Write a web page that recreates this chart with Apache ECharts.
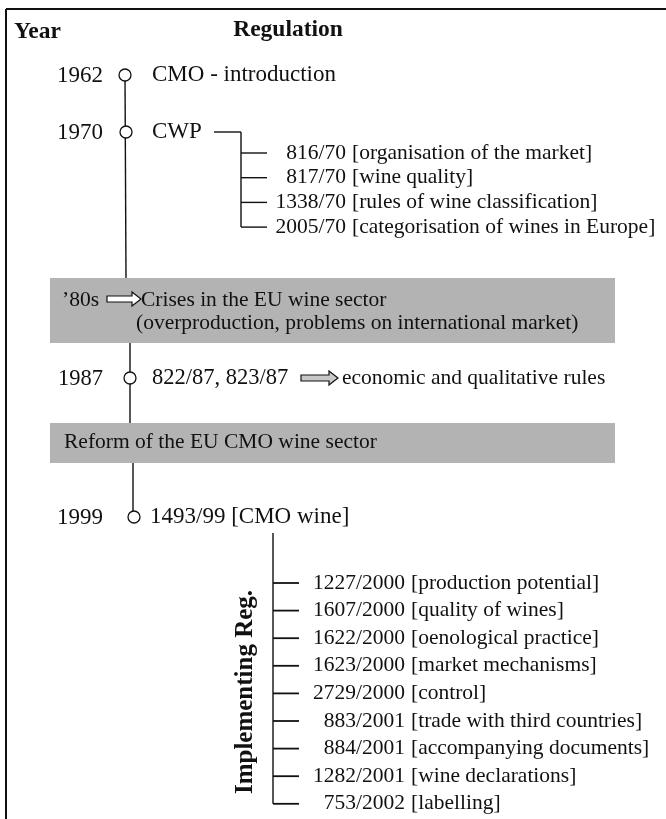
<!DOCTYPE html>
<html>
<head>
<meta charset="utf-8">
<script src="https://cdn.jsdelivr.net/npm/echarts@6/dist/echarts.min.js"></script>
<style>
  html, body { margin: 0; padding: 0; background: #fff; }
  #chart { width: 666px; height: 819px; }
</style>
</head>
<body>
<div id="chart"></div>
<script>
// 表头
const headers = ['Year', 'Regulation']

// 时间轴节点
const years = ['1962', '1970', '1987', '1999']
const yearLabels = ['CMO - introduction', 'CWP', '822/87, 823/87', '1493/99 [CMO wine]']
const rule1987 = 'economic and qualitative rules'

// CWP 下属条例
const cwpCodes = ['816/70', '817/70', '1338/70', '2005/70']
const cwpTopics = ['organisation of the market', 'wine quality', 'rules of wine classification', 'categorisation of wines in Europe']

// 灰色说明框
const crisisPeriod = '\u201980s'
const crisisLines = ['Crises in the EU wine sector', '(overproduction, problems on international market)']
const reformText = 'Reform of the EU CMO wine sector'

// 实施条例
const implTitle = 'Implementing Reg.'
const implCodes = ['1227/2000', '1607/2000', '1622/2000', '1623/2000', '2729/2000', '883/2001', '884/2001', '1282/2001', '753/2002']
const implTopics = ['production potential', 'quality of wines', 'oenological practice', 'market mechanisms', 'control', 'trade with third countries', 'accompanying documents', 'wine declarations', 'labelling']

// 布局 (隐藏坐标轴上的像素单位)
const W = 666
const H = 819
const yearRowY = [75, 132, 378, 517]
const spineX = [125, 126, 130, 134]
const cwpStartY = 153
const cwpStep = 24.7
const implStartY = 583
const implStep = 27.6
const crisisBox = [50, 278, 615, 343]
const reformBox = [50, 423, 615, 463]

const FONT = '"Liberation Serif", "DejaVu Serif", serif'
const FS = 21.5
const FS_BIG = 23
const GRAY = '#b3b3b3'

const chart = echarts.init(document.getElementById('chart'))

const txt = (api, x, y, text, opt = {}) => {
  const p = api.coord([x, y])
  return {
    type: 'text',
    x: p[0],
    y: p[1],
    rotation: opt.rotation || 0,
    style: {
      text: text,
      font: (opt.bold ? 'bold ' : '') + (opt.size || FS) + 'px ' + FONT,
      fill: '#111',
      align: opt.align || 'left',
      verticalAlign: 'middle'
    }
  }
}

const seg = (api, x1, y1, x2, y2, w = 1.4) => {
  const a = api.coord([x1, y1])
  const b = api.coord([x2, y2])
  return {
    type: 'line',
    shape: { x1: a[0], y1: a[1], x2: b[0], y2: b[1] },
    style: { stroke: '#111', lineWidth: w }
  }
}

const box = (api, b) => {
  const a = api.coord([b[0], b[1]])
  const c = api.coord([b[2], b[3]])
  return {
    type: 'rect',
    shape: { x: a[0], y: a[1], width: c[0] - a[0], height: c[1] - a[1] },
    style: { fill: GRAY }
  }
}

const circle = (api, x, y) => {
  const p = api.coord([x, y])
  return {
    type: 'circle',
    shape: { cx: p[0], cy: p[1], r: 6 },
    style: { fill: '#fff', stroke: '#111', lineWidth: 1.3 }
  }
}

// 空心箭头
const arrow = (api, x1, x2, y, fill) => {
  const a = api.coord([x1, y])
  const b = api.coord([x2, y])
  const head = 9
  const pts = [
    [a[0], a[1] - 3], [b[0] - head, a[1] - 3], [b[0] - head, a[1] - 7],
    [b[0], a[1]],
    [b[0] - head, a[1] + 7], [b[0] - head, a[1] + 3], [a[0], a[1] + 3]
  ]
  return {
    type: 'polygon',
    shape: { points: pts },
    style: { fill: fill, stroke: '#111', lineWidth: 1.2 }
  }
}

const renderDiagram = (params, api) => {
  const children = []

  // 边框
  children.push(seg(api, 6, 9, W, 9, 2))
  children.push(seg(api, 6, 9, 6, H, 2))

  // 灰框
  children.push(box(api, crisisBox))
  children.push(box(api, reformBox))

  // 时间轴主线
  children.push(seg(api, spineX[0], yearRowY[0], spineX[1], crisisBox[1]))
  children.push(seg(api, spineX[2], crisisBox[3], spineX[2], reformBox[1]))
  children.push(seg(api, spineX[3] - 1, reformBox[3], spineX[3] - 1, yearRowY[3]))

  // 表头
  children.push(txt(api, 14, 32, headers[0], { bold: true, size: 23.5 }))
  children.push(txt(api, 288, 30, headers[1], { bold: true, size: 23.5, align: 'center' }))

  // 年份节点
  years.forEach((yr, i) => {
    const size = i === 2 ? 22.5 : FS_BIG
    children.push(txt(api, 103, yearRowY[i] + 1, yr, { align: 'right', size: size }))
    children.push(circle(api, spineX[i], yearRowY[i]))
    children.push(txt(api, i === 3 ? 150 : 152, yearRowY[i], yearLabels[i], { size: size }))
  })

  // 1987 箭头
  children.push(arrow(api, 301, 338, yearRowY[2], '#c8c8c8'))
  children.push(txt(api, 342, yearRowY[2], rule1987))

  // CWP 分支
  const cwpBranchX = 241
  const cwpEndY = cwpStartY + cwpStep * (cwpCodes.length - 1)
  children.push(seg(api, 214, yearRowY[1], cwpBranchX, yearRowY[1]))
  children.push(seg(api, cwpBranchX, yearRowY[1], cwpBranchX, cwpEndY))
  cwpCodes.forEach((code, i) => {
    const y = cwpStartY + cwpStep * i
    children.push(seg(api, cwpBranchX, y, 267, y))
    children.push(txt(api, 346, y, code, { align: 'right' }))
    children.push(txt(api, 352, y, '[' + cwpTopics[i] + ']'))
  })

  // 危机框文字
  children.push(txt(api, 62, 300, crisisPeriod))
  children.push(arrow(api, 107, 141, 299, '#ffffff'))
  children.push(txt(api, 141, 300, crisisLines[0]))
  children.push(txt(api, 136, 323, crisisLines[1]))

  // 改革框文字
  children.push(txt(api, 64, 442, reformText))

  // 实施条例
  const implX = 273
  const implEndY = implStartY + implStep * (implCodes.length - 1)
  children.push(seg(api, implX, 533, implX, implEndY))
  implCodes.forEach((code, i) => {
    const y = implStartY + implStep * i
    children.push(seg(api, implX, y, 299, y, 1.8))
    children.push(txt(api, 405, y, code, { align: 'right' }))
    children.push(txt(api, 411, y, '[' + implTopics[i] + ']'))
  })
  children.push(txt(api, 246, 692, implTitle, { bold: true, size: 25, align: 'center', rotation: Math.PI / 2 }))

  return { type: 'group', children: children }
}

const option = {
  animation: false,
  grid: { left: 0, right: 0, top: 0, bottom: 0 },
  xAxis: { type: 'value', min: 0, max: W, show: false },
  yAxis: { type: 'value', min: 0, max: H, inverse: true, show: false },
  series: [
    {
      type: 'custom',
      renderItem: renderDiagram,
      data: [[0, 0]],
      silent: true
    }
  ]
}

chart.setOption(option)
</script>
</body>
</html>
